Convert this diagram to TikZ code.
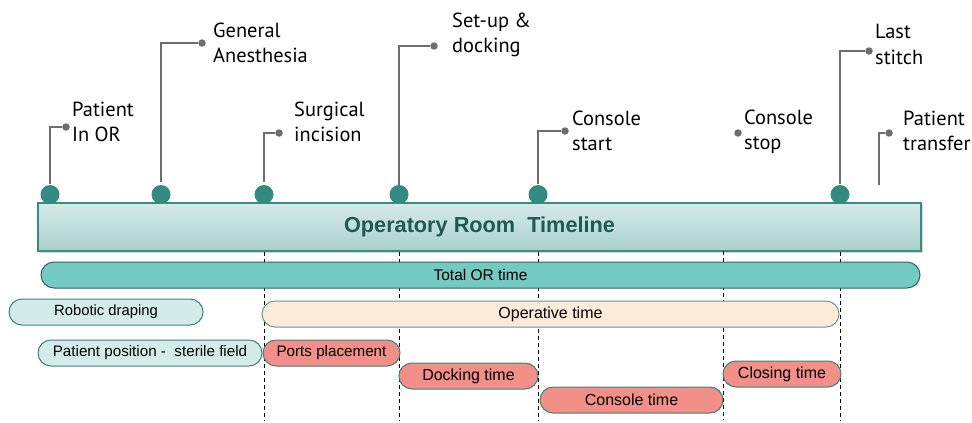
\documentclass[tikz,border=0pt]{standalone}
\usepackage{fontspec}
\setmainfont{Liberation Sans}
\newfontfamily\callfont{PT Sans}
\usetikzlibrary{shadows}
\definecolor{dotteal}{HTML}{338A80}
\definecolor{hdrtop}{HTML}{D6EAE8}
\definecolor{hdrbot}{HTML}{A8D1CC}
\definecolor{hdredge}{HTML}{3C8B81}
\definecolor{hdrtext}{HTML}{1F5A51}
\definecolor{totfill}{HTML}{74C9C1}
\definecolor{totedge}{HTML}{2F6660}
\definecolor{ltfill}{HTML}{D3ECEA}
\definecolor{ltedge}{HTML}{3F8078}
\definecolor{peach}{HTML}{FDEBD9}
\definecolor{salmon}{HTML}{F28F88}
\definecolor{callgray}{HTML}{6E6E6E}
\begin{document}
\begin{tikzpicture}[x=1pt,y=-1pt,
  bigdot/.style={circle,fill=dotteal,minimum size=19pt,inner sep=0pt},
  cdot/.style={circle,fill=callgray,minimum size=7.5pt,inner sep=0pt},
  callout/.style={draw=callgray,line width=1.2pt},
  calltext/.style={anchor=west,align=left,inner sep=0pt,font=\callfont\fontsize{20.4}{25.5}\selectfont},
  bar/.style={rectangle,rounded corners=13pt,minimum height=26pt,inner sep=0pt,line width=1pt},
  fs/.style={font=\fontsize{#1}{18}\selectfont},
  totbar/.style={bar,fill=totfill,draw=totedge},
  ltbar/.style={bar,fill=ltfill,draw=ltedge},
  pchbar/.style={bar,fill=peach,draw=ltedge!80},
  salbar/.style={bar,fill=salmon,draw=ltedge},
  vdash/.style={draw=black,line width=0.9pt,dash pattern=on 4pt off 3pt}
]
\useasboundingbox (0,0) rectangle (972,423);
\coordinate (bot) at (0,420);
% header
\node[rectangle,minimum width=883pt,minimum height=48pt,inner sep=0pt,
  top color=hdrtop,bottom color=hdrbot,draw=hdredge,line width=1.2pt,
  drop shadow={shadow xshift=1.5pt,shadow yshift=-1.5pt,opacity=0.3}]
  (hdr) at (479.5,227) {};
\node[font=\bfseries\fontsize{21.7}{26}\selectfont,text=hdrtext] (title) at (479.5,227) {Operatory Room\ \ Timeline};
% milestone dots
\node[bigdot] (d1) at (50,194.5) {};
\node[bigdot] (d2) at (161,194.5) {};
\node[bigdot] (d3) at (264,194.5) {};
\node[bigdot] (d4) at (399,194.5) {};
\node[bigdot] (d5) at (538,194.5) {};
\node[bigdot] (d6) at (840,194.5) {};
\coordinate (m5) at (723,251);
\coordinate (pt) at (879,185);
% dashed lines
\draw[vdash] (hdr.south -| d3) -- (bot -| d3);
\draw[vdash] (hdr.south -| d4) -- (bot -| d4);
\draw[vdash] (hdr.south -| d5) -- (bot -| d5);
\draw[vdash] (m5) -- (bot -| m5);
\draw[vdash] (hdr.south -| d6) -- (bot -| d6);
% bars
\node[totbar,fs=15.5,minimum width=879pt] (tot) at (480.5,275) {Total OR time};
\node[ltbar,fs=14.8,minimum width=194pt] (rob) at (106,312) {Robotic draping};
\node[pchbar,fs=16,minimum width=577pt] (op) at (550.5,314) {Operative time};
\node[ltbar,fs=15.2,minimum width=224pt] (pp) at (150,353) {Patient position -\ \ sterile field};
\node[salbar,fs=15.2,minimum width=137pt] (port) at (331.5,353) {Ports placement};
\node[salbar,fs=16,minimum width=139pt] (dock) at (468.5,376) {Docking time};
\node[salbar,fs=16,minimum width=183pt] (cons) at (631.5,400) {Console time};
\node[salbar,fs=16,minimum width=118pt] (clos) at (782,374) {Closing time};
% callouts
\node[cdot] (c1) at (66,127) {};
\node[cdot] (c2) at (202,43) {};
\node[cdot] (c3) at (279,133) {};
\node[cdot] (c4) at (434,46) {};
\node[cdot] (c5) at (565,131) {};
\node[cdot] (c6) at (738,133) {};
\node[cdot] (c7) at (869,51) {};
\node[cdot] (c8) at (889,133) {};
\draw[callout] ([yshift=1pt]d1.north) |- (c1);
\draw[callout] ([yshift=3pt]d2.north) |- (c2);
\draw[callout] ([yshift=3pt]d3.north) |- (c3);
\draw[callout] (d4.north) |- (c4);
\draw[callout] ([yshift=1pt]d5.north) |- (c5);
\draw[callout] ([yshift=1pt]d6.north) |- (c7);
\draw[callout] (pt) |- (c8);
\node[calltext] (t1) at (72,122) {Patient\\In OR};
\node[calltext] (t2) at (213,43) {General\\Anesthesia};
\node[calltext] (t3) at (294,122) {Surgical\\incision};
\node[calltext] (t4) at (452,35) {Set-up \&\\docking};
\node[calltext] (t5) at (572,131) {Console\\start};
\node[calltext] (t6) at (744,132) {Console\\stop};
\node[calltext] (t7) at (875,44.5) {Last\\stitch};
\node[calltext] (t8) at (903,131) {Patient\\transfer};
\end{tikzpicture}
\end{document}
